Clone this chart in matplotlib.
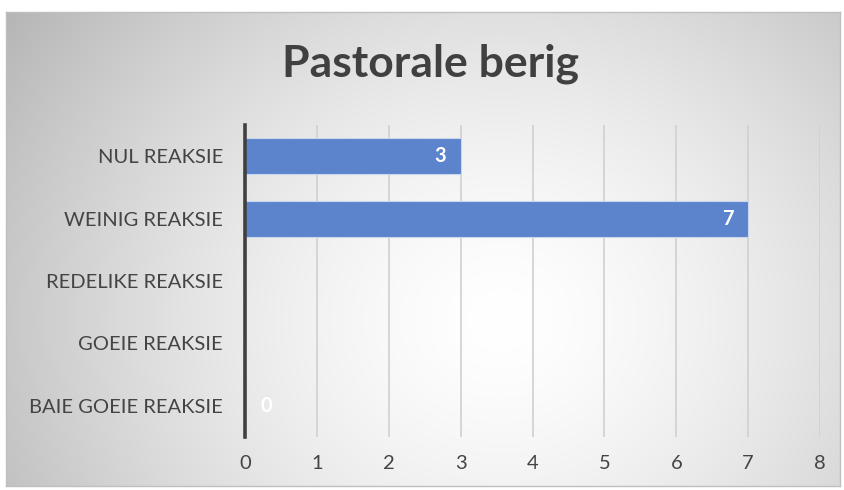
import numpy as np
import matplotlib
matplotlib.use("Agg")
import matplotlib.pyplot as plt

categories = ["NUL REAKSIE", "WEINIG REAKSIE", "REDELIKE REAKSIE", "GOEIE REAKSIE", "BAIE GOEIE REAKSIE"]
values = [3, 7, None, None, 0]
xticks = [0, 1, 2, 3, 4, 5, 6, 7, 8]
title = "Pastorale berig"

FONT = "Lato"
W, H = 845, 490
fig = plt.figure(figsize=(W / 100, H / 100), dpi=100)
fig.patch.set_facecolor("white")

# chart frame with radial gradient
fx0, fy0, fx1, fy1 = 6, 12, 840, 486
bg = fig.add_axes([fx0 / W, 1 - fy1 / H, (fx1 - fx0) / W, (fy1 - fy0) / H])
yy, xx = np.mgrid[0:fy1 - fy0, 0:fx1 - fx0]
cx, cy = 500 - fx0, 320 - fy0
r = np.sqrt(((xx - cx) / 500.0) ** 2 + ((yy - cy) / 450.0) ** 2)
v = 1.0 - 0.22 * np.clip(r, 0, 1.2) ** 1.5
img = np.dstack([v, v, v])
bg.imshow(img, aspect="auto", extent=[0, 1, 0, 1], origin="upper")
bg.set_xlim(0, 1)
bg.set_ylim(0, 1)
bg.set_xticks([])
bg.set_yticks([])
for s in bg.spines.values():
    s.set_color("#bfbfbf")
    s.set_linewidth(1.0)

# plot area
px0, px1 = 245, 820
py0, py1 = 125, 437
ax = fig.add_axes([px0 / W, 1 - py1 / H, (px1 - px0) / W, (py1 - py0) / H])
ax.patch.set_alpha(0)
ax.set_xlim(0, 8)
n = len(categories)
ax.set_ylim(n - 0.5, -0.5)
ax.set_xticks(xticks)
ax.set_xticklabels([str(t) for t in xticks])
ax.set_yticks(range(n))
ax.set_yticklabels(categories)
for s in ax.spines.values():
    s.set_visible(False)
ax.tick_params(axis="both", length=0, labelsize=14.5)
ax.tick_params(axis="x", pad=13)
ax.tick_params(axis="y", pad=16)
for lab in ax.get_xticklabels() + ax.get_yticklabels():
    lab.set_fontfamily(FONT)
    lab.set_color("#444444")

for t in xticks[1:]:
    ax.axvline(t, color="#d0d0d0", lw=1.2, zorder=1)
ax.axvline(0, color="#404040", lw=2.6, zorder=4, clip_on=False)

for i, val in enumerate(values):
    if val is None:
        continue
    if val > 0:
        ax.barh(i, val, height=0.58, color="#5b84cd", edgecolor="#c9d6ee", lw=0.8, zorder=3)
        ax.text(val - 0.2, i, str(val), ha="right", va="center", color="white",
                fontsize=14.5, fontweight="bold", family=FONT, zorder=5)
    else:
        ax.text(0.22, i, str(val), ha="left", va="center", color="white",
                fontsize=14.5, fontweight="bold", family=FONT, zorder=5)

fig.text(431 / W, 1 - 64 / H, title, ha="center", va="center", fontsize=32,
         fontweight="bold", color="#404040", family=FONT)

fig.savefig("out.png", dpi=100)
